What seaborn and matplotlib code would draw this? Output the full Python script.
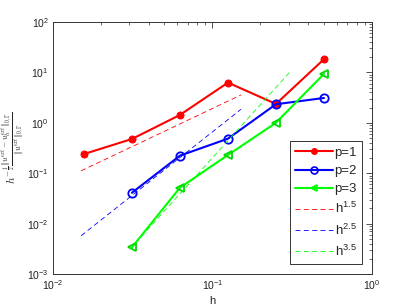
import numpy as np
import pandas as pd
import matplotlib
matplotlib.use("Agg")
import matplotlib.pyplot as plt
import seaborn as sns
from matplotlib.ticker import LogLocator, FuncFormatter, NullFormatter
from matplotlib.lines import Line2D

# ---- data ----
h1 = [1/64, 1/32, 1/16, 1/8, 1/4, 1/2]
p1 = [0.24, 0.477, 1.43, 6.25, 2.36, 18.2]
h23 = [1/32, 1/16, 1/8, 1/4, 1/2]
p2 = [0.041, 0.223, 0.484, 2.33, 3.1]
p3 = [0.0034, 0.0516, 0.23, 1.0, 9.3]
href12 = [0.015, 0.151]
href3 = [0.0303, 0.303]
ref15 = [60.7 * h**1.5 for h in href12]
ref25 = [209.0 * h**2.5 for h in href12]
ref35 = [641.0 * h**3.5 for h in href3]
labels = ["p=1", "p=2", "p=3", r"$\mathregular{h^{1.5}}$",
          r"$\mathregular{h^{2.5}}$", r"$\mathregular{h^{3.5}}$"]

sns.set_style("white")
plt.rcParams["font.family"] = ["Liberation Sans", "DejaVu Sans"]
plt.rcParams["mathtext.fontset"] = "cm"

fig = plt.figure(figsize=(4.11, 3.08), dpi=100)
ax = fig.add_axes([0.129, 0.110, 0.776, 0.819])

sns.lineplot(x=h1, y=p1, ax=ax, color=(1, 0, 0), lw=1.5, marker="o",
             markersize=5, markeredgecolor=(1, 0, 0), markerfacecolor=(1, 0, 0))
sns.lineplot(x=h23, y=p2, ax=ax, color=(0, 0, 1), lw=1.5, marker="o",
             markersize=6, markeredgecolor=(0, 0, 1), markerfacecolor="none",
             markeredgewidth=1.3)
sns.lineplot(x=h23, y=p3, ax=ax, color=(0, 1, 0), lw=1.5, marker="<",
             markersize=6, markeredgecolor=(0, 0.85, 0), markerfacecolor="none",
             markeredgewidth=1.3)
sns.lineplot(x=href12, y=ref15, ax=ax, color=(1, 0, 0), lw=0.6, ls=(0, (6, 4)))
sns.lineplot(x=href12, y=ref25, ax=ax, color=(0, 0, 1), lw=0.6, ls=(0, (6, 4)))
sns.lineplot(x=href3, y=ref35, ax=ax, color=(0, 1, 0), lw=0.6, ls=(0, (6, 4)))

ax.set_xscale("log")
ax.set_yscale("log")
ax.set_xlim(1e-2, 1e0)
ax.set_ylim(1e-3, 1e2)

def fmt(v, pos):
    e = int(round(np.log10(v)))
    return r"$\mathregular{10^{%d}}$" % e

ax.xaxis.set_major_locator(LogLocator(base=10, numticks=10))
ax.yaxis.set_major_locator(LogLocator(base=10, numticks=10))
ax.xaxis.set_minor_locator(LogLocator(base=10, subs=np.arange(2, 10), numticks=20))
ax.yaxis.set_minor_locator(LogLocator(base=10, subs=np.arange(2, 10), numticks=20))
ax.xaxis.set_major_formatter(FuncFormatter(fmt))
ax.yaxis.set_major_formatter(FuncFormatter(fmt))
ax.xaxis.set_minor_formatter(NullFormatter())
ax.yaxis.set_minor_formatter(NullFormatter())
ax.tick_params(which="both", direction="in", top=True, right=True,
               color="#333333", labelsize=7.5, labelcolor="#222222")
ax.tick_params(which="major", length=4, width=0.6, pad=3)
ax.tick_params(which="minor", length=2, width=0.5)
for s in ax.spines.values():
    s.set_color("#333333")
    s.set_linewidth(0.7)

ax.set_xlabel("h", fontsize=8, color="#222222", labelpad=3)
ax.set_ylabel(r"$h^{-\frac{1}{2}}\frac{\|u^{ext}-u_h^{ext}\|_{0,\Gamma}}{\|u^{ext}\|_{0,\Gamma}}$",
              fontsize=8, color="#222222")
ax.yaxis.set_label_coords(-0.078, 0.5)

handles = [
    Line2D([], [], color=(1, 0, 0), lw=1.5, marker="o", markersize=4),
    Line2D([], [], color=(0, 0, 1), lw=1.5, marker="o", markersize=5,
           markerfacecolor="none", markeredgewidth=1.2),
    Line2D([], [], color=(0, 1, 0), lw=1.5, marker="<", markersize=5,
           markerfacecolor="none", markeredgewidth=1.2),
    Line2D([], [], color=(1, 0, 0), lw=0.6, ls=(0, (6, 4))),
    Line2D([], [], color=(0, 0, 1), lw=0.6, ls=(0, (6, 4))),
    Line2D([], [], color=(0, 1, 0), lw=0.6, ls=(0, (6, 4))),
]
leg = ax.legend(handles, labels, loc="lower right", bbox_to_anchor=(0.97, 0.04),
                fontsize=9.5, frameon=True, fancybox=False, edgecolor="#333333",
                framealpha=1, handlelength=2.9, handletextpad=0.1,
                labelspacing=0.45, borderpad=0.4, borderaxespad=0)
leg.get_frame().set_linewidth(0.7)

fig.savefig("out.png", dpi=100)
